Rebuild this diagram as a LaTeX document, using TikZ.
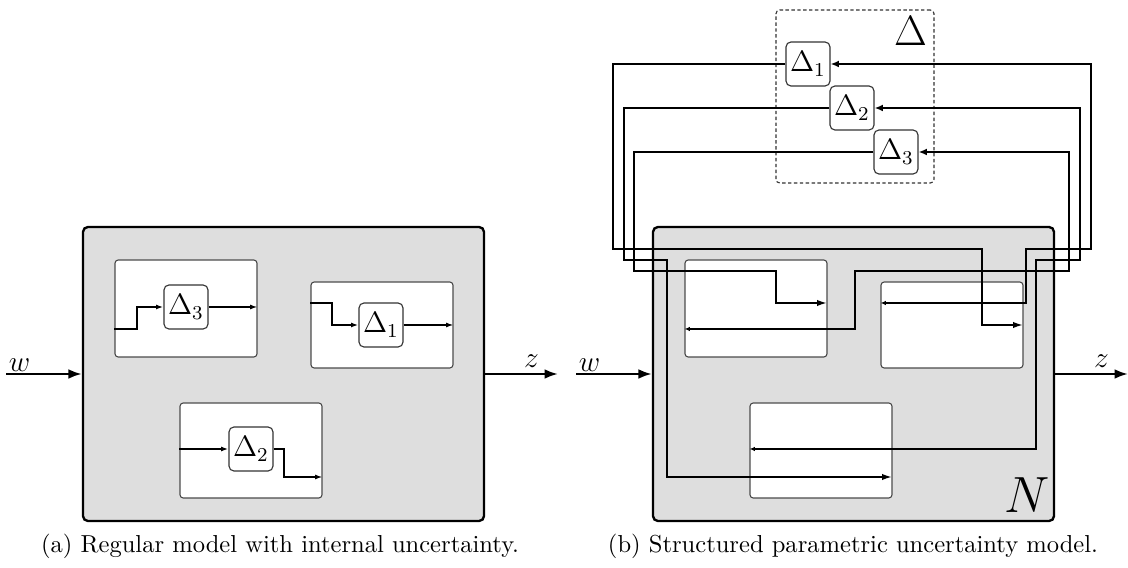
\documentclass[tikz,border=0pt]{standalone}
\usetikzlibrary{arrows.meta}
% one drawing unit is one pixel of the 1128 x 568 canvas
\newcommand\pxu{0.4073pt}
\tikzset{
  plantbox/.style={draw=black, line width=0.95pt, fill=black!13, rounded corners=2pt,
    minimum width=401*\pxu, minimum height=294*\pxu, inner sep=0pt},
  subbox/.style={draw=black!70, line width=0.45pt, fill=white, rounded corners=1.3pt, inner sep=0pt},
  deltabox/.style={draw=black!80, line width=0.45pt, fill=white, rounded corners=2pt,
    minimum width=44*\pxu, minimum height=44*\pxu, inner sep=0pt, font=\fontsize{11.5}{13}\selectfont},
  dashbox/.style={draw=black!80, line width=0.45pt, dash pattern=on 1.4pt off 1pt, rounded corners=1.5pt, inner sep=0pt},
  wire/.style={line width=0.95pt},
  thinwire/.style={line width=0.9pt},
  ioarrow/.style={line width=0.95pt, -{Latex[length=5.5pt,width=4pt]}},
  smalltip/.style={-{Latex[length=3pt,width=2pt]}},
  feedtip/.style={-{Latex[length=4.3pt,width=2.6pt]}},
  backtip/.style={{Latex[length=2.2pt,width=1.8pt]}-{Latex[length=3.4pt,width=2.8pt]}},
  iolabel/.style={font=\large, inner sep=0pt},
  captext/.style={font=\normalsize, inner sep=0pt, anchor=base},
}
% gray plant block with its three inner sub-blocks and the w / z signals
\newcommand\plantframe{%
  \node[plantbox] (plant) at (283.5,374) {};
  \coordinate (win) at (6,374);
  \coordinate (zout) at (558,374);
  \draw[ioarrow] (win) -- (plant.west);
  \draw[ioarrow] (plant.east) -- (zout);
  \node[iolabel, anchor=base] (wlab) at (19.5,371.5) {$w$};
  \node[iolabel, anchor=base] (zlab) at (531.5,368) {$z$};
  \node[subbox, minimum width=142*\pxu, minimum height=97*\pxu] (A) at (186,308.5) {};
  \node[subbox, minimum width=142*\pxu, minimum height=86*\pxu] (B) at (382,325) {};
  \node[subbox, minimum width=142*\pxu, minimum height=95*\pxu] (C) at (251,450.5) {};
}
\begin{document}
\begin{tikzpicture}[x=\pxu, y=-\pxu]
\useasboundingbox (0,0) rectangle (1128,568);

% (a) uncertainty kept inside the model
\begin{scope}[name prefix=L-]
  \plantframe
  \node[deltabox] (D3) at (186,307) {$\Delta_3$};
  \node[deltabox] (D1) at (381,325) {$\Delta_1$};
  \node[deltabox] (D2) at (251,449) {$\Delta_2$};
  \draw[wire, smalltip] (A.west |- 0,329) -- (137,329) -- (137,307) -- (D3.west);
  \draw[wire, smalltip] (D3.east) -- (A.east |- D3.east);
  \draw[wire, smalltip] (B.west |- 0,303) -- (332,303) -- (332,325) -- (D1.west);
  \draw[wire, smalltip] (D1.east) -- (B.east |- D1.east);
  \draw[wire, smalltip] (C.west |- D2.west) -- (D2.west);
  \draw[wire, smalltip] (D2.east) -- (284,449) -- (284,477) -- (C.east |- 0,477);
  \node[captext] (cap) at (280,553) {(a) Regular model with internal uncertainty.};
\end{scope}

% (b) uncertainties pulled out into a block-diagonal Delta
\begin{scope}[shift={(570,0)}, name prefix=R-]
  \plantframe
  \node[font=\huge, inner sep=0pt] (Nlab) at (457.5,495) {$N$};
  \node[dashbox, minimum width=158*\pxu, minimum height=173*\pxu] (Dset) at (285,96.5) {};
  \node[font=\LARGE, inner sep=0pt] (Dlab) at (340.5,31) {$\Delta$};
  \node[deltabox] (D1) at (238,64) {$\Delta_1$};
  \node[deltabox] (D2) at (282,108) {$\Delta_2$};
  \node[deltabox] (D3) at (326,152) {$\Delta_3$};
  % outputs of the Delta blocks back into N
  \draw[thinwire, feedtip] (D1.west) -- (43,64) -- (43,249) -- (412,249) -- (412,325) -- (B.east |- 0,325);
  \draw[thinwire, feedtip] (D2.west) -- (54,108) -- (54,260) -- (97,260) -- (97,477) -- (C.east |- 0,477);
  \draw[thinwire, feedtip] (D3.west) -- (64,152) -- (64,271) -- (206,271) -- (206,303) -- (A.east |- 0,303);
  % inputs of the Delta blocks taken out of N
  \draw[thinwire, backtip] (B.west |- 0,303) -- (456,303) -- (456,249) -- (521,249) -- (521,64) -- (D1.east);
  \draw[thinwire, backtip] (C.west |- 0,449) -- (466,449) -- (466,260) -- (510,260) -- (510,108) -- (D2.east);
  \draw[thinwire, backtip] (A.west |- 0,329) -- (285,329) -- (285,271) -- (499,271) -- (499,152) -- (D3.east);
  \node[captext] (cap) at (283,553) {(b) Structured parametric uncertainty model.};
\end{scope}
\end{tikzpicture}
\end{document}
